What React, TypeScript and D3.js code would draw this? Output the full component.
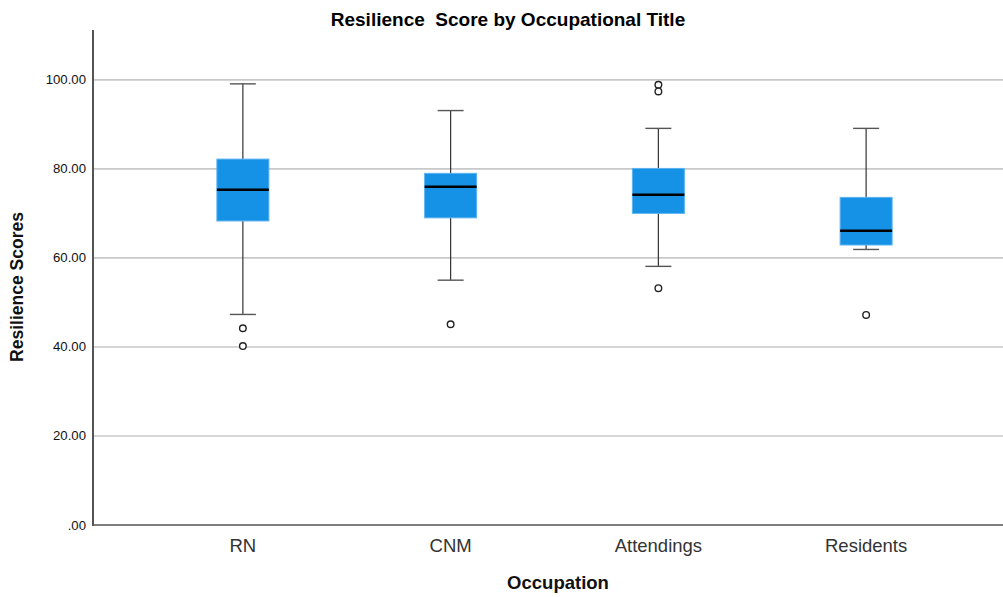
import React from "react";
import * as d3 from "d3";

// box plot summary per occupation
const categories = ["RN", "CNM", "Attendings", "Residents"];
const whiskerLow = [47.3, 55, 58.1, 61.9];
const q1 = [68.3, 69, 70, 62.9];
const medians = [75.3, 76, 74.2, 66.1];
const q3 = [82.2, 79, 80.1, 73.6];
const whiskerHigh = [99.1, 93.1, 89.1, 89.1];
const outliers = [[44.2, 40.2], [45.1], [98.9, 97.4, 53.2], [47.2]];
const yTicks = [0, 20, 40, 60, 80, 100];

const W = 1003;
const H = 597;
const FONT = "Arial, 'Liberation Sans', sans-serif";

const App = () => {
  const y = d3.scaleLinear().domain([0, 111.2]).range([525, 30]);
  const x = d3.scaleBand().domain(categories).range([139, 970]).padding(0);
  const boxW = 52;

  const fmt = (v: number) => (v === 0 ? ".00" : d3.format(".2f")(v));

  return (
    <div style={{ position: "absolute", left: 0, top: 0 }}>
      <svg width={W} height={H} style={{ display: "block", background: "#fff" }}>
        {/* gridlines */}
        {yTicks
          .filter((t) => t > 0)
          .map((t) => (
            <line
              key={t}
              x1={93}
              x2={W}
              y1={y(t)}
              y2={y(t)}
              stroke="#c9c9c9"
              strokeWidth={1.6}
            />
          ))}

        {/* axes */}
        <line x1={93} x2={93} y1={30} y2={526} stroke="#555" strokeWidth={2} />
        <line x1={92} x2={W} y1={525} y2={525} stroke="#555" strokeWidth={1.6} />

        {yTicks.map((t) => (
          <text
            key={t}
            x={86}
            y={y(t) + 4.5}
            textAnchor="end"
            fontSize={13.2}
            fontFamily={FONT}
            fill="#111"
          >
            {fmt(t)}
          </text>
        ))}

        {/* boxes */}
        {categories.map((c, i) => {
          const cx = (x(c) as number) + x.bandwidth() / 2;
          return (
            <g key={c}>
              <line
                x1={cx}
                x2={cx}
                y1={y(whiskerHigh[i])}
                y2={y(whiskerLow[i])}
                stroke="#333"
                strokeWidth={1.2}
              />
              <line
                x1={cx - 13}
                x2={cx + 13}
                y1={y(whiskerHigh[i])}
                y2={y(whiskerHigh[i])}
                stroke="#555"
                strokeWidth={1.4}
              />
              <line
                x1={cx - 13}
                x2={cx + 13}
                y1={y(whiskerLow[i])}
                y2={y(whiskerLow[i])}
                stroke="#555"
                strokeWidth={1.4}
              />
              <rect
                x={cx - boxW / 2}
                y={y(q3[i])}
                width={boxW}
                height={y(q1[i]) - y(q3[i])}
                fill="#1591e6"
                stroke="#5cb3f0"
                strokeWidth={1}
              />
              <line
                x1={cx - boxW / 2}
                x2={cx + boxW / 2}
                y1={y(medians[i])}
                y2={y(medians[i])}
                stroke="#000"
                strokeWidth={2.6}
              />
              {outliers[i].map((o, j) => (
                <circle
                  key={j}
                  cx={cx}
                  cy={y(o)}
                  r={3.3}
                  fill="#fff"
                  stroke="#222"
                  strokeWidth={1.4}
                />
              ))}
              <text
                x={cx}
                y={552}
                textAnchor="middle"
                fontSize={18.5}
                fontFamily={FONT}
                fill="#333"
              >
                {c}
              </text>
            </g>
          );
        })}

        {/* titles */}
        <text
          x={508}
          y={26}
          textAnchor="middle"
          fontSize={19}
          fontWeight="bold"
          fontFamily={FONT}
          fill="#000"
          style={{ whiteSpace: "pre" }}
        >
          {"Resilience  Score by Occupational Title"}
        </text>
        <text
          x={558}
          y={589}
          textAnchor="middle"
          fontSize={18.5}
          fontWeight="bold"
          fontFamily={FONT}
          fill="#111"
        >
          Occupation
        </text>
        <text
          transform="translate(23,287) rotate(-90)"
          textAnchor="middle"
          fontSize={17.5}
          fontWeight="bold"
          fontFamily={FONT}
          fill="#111"
        >
          Resilience Scores
        </text>
      </svg>
    </div>
  );
};

export default App;
